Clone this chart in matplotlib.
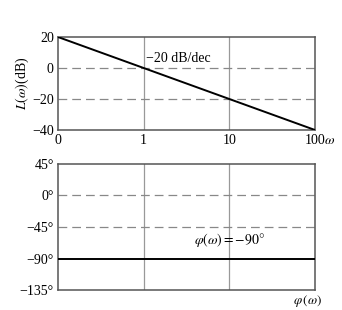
import numpy as np
import matplotlib
matplotlib.use("Agg")
import matplotlib.pyplot as plt

plt.rcParams['font.family'] = ['Liberation Serif', 'DejaVu Serif']
plt.rcParams['mathtext.fontset'] = 'stix'

# data
omega = [0.1, 1, 10, 100]
omega_labels = ["0", "1", "10", "100"]
mag_db = [20, 0, -20, -40]
mag_ticks = [20, 0, -20, -40]
mag_ticklabels = ["20", "0", "\u221220", "\u221240"]
phase_deg = [-90, -90, -90, -90]
phase_ticks = [45, 0, -45, -90, -135]
phase_ticklabels = ["45\u00b0", "0\u00b0", "\u221245\u00b0", "\u221290\u00b0", "\u2212135\u00b0"]

fs = 10

fig = plt.figure(figsize=(3.42, 3.10), dpi=100)
ax1 = fig.add_axes([0.1696, 0.5806, 0.7515, 0.300])
ax2 = fig.add_axes([0.1696, 0.0645, 0.7515, 0.4065])

for ax in (ax1, ax2):
    ax.set_xscale('log')
    ax.set_xlim(0.1, 100)
    ax.minorticks_off()
    ax.tick_params(length=0, labelsize=fs, pad=3)
    for s in ax.spines.values():
        s.set_color('#555555')
        s.set_linewidth(1.1)
    for xv in (1, 10):
        ax.axvline(xv, color='#999999', lw=0.9, zorder=1)

# magnitude
ax1.plot(omega, mag_db, color='black', lw=1.4, zorder=3)
ax1.set_ylim(-40, 20)
ax1.set_yticks(mag_ticks)
ax1.set_yticklabels(mag_ticklabels)
ax1.set_xticks(omega)
ax1.set_xticklabels(omega_labels)
for yv in (0, -20):
    ax1.axhline(yv, color='#888888', lw=0.9, dashes=(7, 4), zorder=1)
ax1.set_ylabel(r"$L(\omega)$(dB)", fontsize=fs, labelpad=1)
ax1.text(1.07, 6, "\u221220 dB/dec", fontsize=fs, va='center', ha='left')
ax1.text(1.036, -0.04, r"$\omega$", transform=ax1.transAxes, fontsize=fs, va='top', ha='left')

# phase
ax2.plot(omega, phase_deg, color='black', lw=1.4, zorder=3)
ax2.set_ylim(-135, 45)
ax2.set_yticks(phase_ticks)
ax2.set_yticklabels(phase_ticklabels)
ax2.set_xticks([])
for yv in (0, -45):
    ax2.axhline(yv, color='#888888', lw=0.9, dashes=(7, 4), zorder=1)
ax2.text(10, -63, r"$\varphi(\omega)=-90°$", fontsize=fs, ha='center', va='center')
ax2.text(0.97, -0.085, r"$\varphi\,(\omega)$", transform=ax2.transAxes, fontsize=9.5, va='center', ha='center')

fig.savefig("out.png", dpi=100)
